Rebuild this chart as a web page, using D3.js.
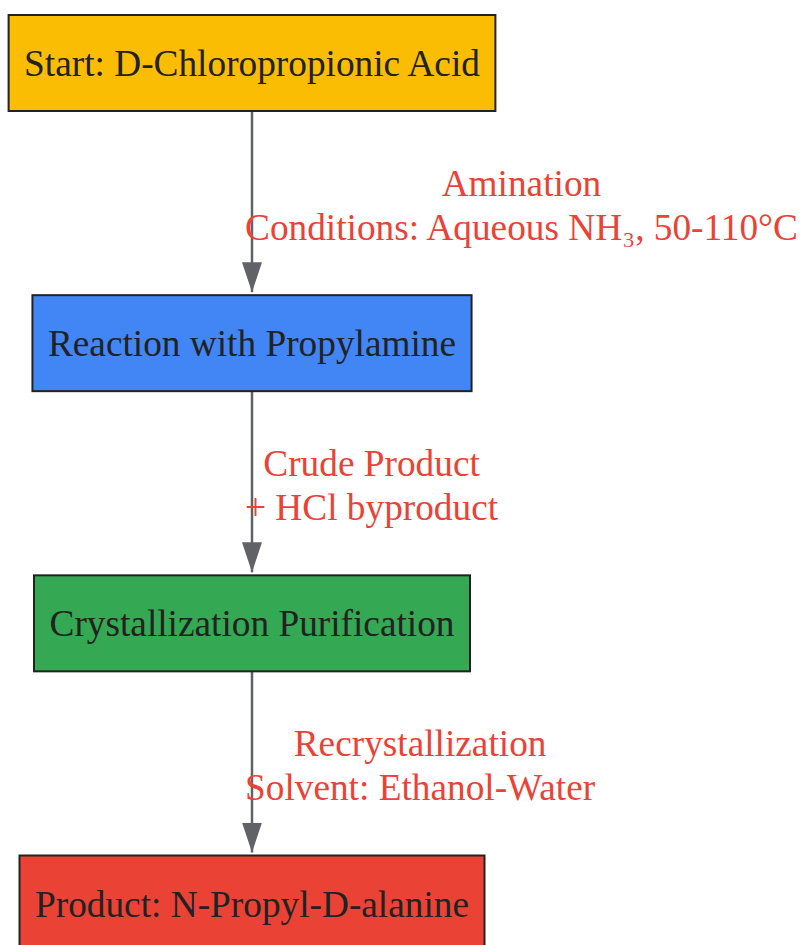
<!DOCTYPE html>
<html>
<head>
<meta charset="utf-8">
<script src="https://cdn.jsdelivr.net/npm/d3@7"></script>
<style>
  body { margin: 0; background: #fff; }
  svg { display: block; }
  text { font-family: "Liberation Serif", "Times New Roman", serif; }
</style>
</head>
<body>
<svg width="801" height="945"></svg>
<script>
// steps of the flow, top to bottom
let steps = [
  'Start: D-Chloropropionic Acid',
  'Reaction with Propylamine',
  'Crystallization Purification',
  'Product: N-Propyl-D-alanine'
];
let stepColors = ['#fbbc04', '#4285f4', '#34a853', '#ea4335'];

// label on each edge (one entry per line)
let edgeLabels = [
  ['Amination', 'Conditions: Aqueous NH\u2083, 50-110\u00b0C'],
  ['Crude Product', '+ HCl byproduct'],
  ['Recrystallization', 'Solvent: Ethanol-Water']
];

let svg = d3.select('svg');
let centerX = 252;
let boxH = 96;
let fontSize = 37.3;

let y = d3.scalePoint()
  .domain(d3.range(steps.length))
  .range([63, 903.5]);

svg.append('defs')
  .append('marker')
    .attr('id', 'arrow')
    .attr('viewBox', '0 0 30 20')
    .attr('refX', 30)
    .attr('refY', 10)
    .attr('markerUnits', 'userSpaceOnUse')
    .attr('markerWidth', 30)
    .attr('markerHeight', 20)
    .attr('orient', 'auto')
  .append('path')
    .attr('d', 'M0,0 L30,10 L0,20 Z')
    .attr('fill', '#5f6368');

// edges
let edges = svg.append('g');
edgeLabels.forEach(function(lines, i) {
  edges.append('line')
    .attr('x1', centerX)
    .attr('x2', centerX)
    .attr('y1', y(i) + boxH / 2)
    .attr('y2', y(i + 1) - boxH / 2 - 3)
    .attr('stroke', '#5f6368')
    .attr('stroke-width', 2.5)
    .attr('marker-end', 'url(#arrow)');
});

// nodes
let nodes = svg.append('g')
  .selectAll('g')
  .data(steps)
  .join('g')
    .attr('transform', (d, i) => `translate(${centerX}, ${y(i)})`);

let nodeText = nodes.append('text')
  .attr('text-anchor', 'middle')
  .attr('dy', '0.35em')
  .attr('font-size', fontSize)
  .attr('fill', '#222')
  .text(d => d);

nodes.insert('rect', 'text')
  .each(function(d, i) {
    let w = nodeText.nodes()[i].getComputedTextLength() + 31;
    d3.select(this)
      .attr('x', -w / 2)
      .attr('y', -boxH / 2)
      .attr('width', w)
      .attr('height', boxH);
  })
  .attr('fill', (d, i) => stepColors[i])
  .attr('stroke', '#222')
  .attr('stroke-width', 2);

// edge labels, block starts just left of the arrow line
let labelLeft = 245;
let lineGap = 44;
edgeLabels.forEach(function(lines, i) {
  let mid = (y(i) + y(i + 1)) / 2;
  let g = svg.append('g');
  let texts = g.selectAll('text')
    .data(lines)
    .join('text')
      .attr('text-anchor', 'middle')
      .attr('font-size', fontSize)
      .attr('fill', '#ea4335')
      .attr('y', (d, j) => mid + 2 + (j - (lines.length - 1) / 2) * lineGap)
      .attr('dy', '0.35em')
      .text(d => d);
  let maxW = d3.max(texts.nodes(), n => n.getComputedTextLength());
  texts.attr('x', labelLeft + maxW / 2);
});
</script>
</body>
</html>
